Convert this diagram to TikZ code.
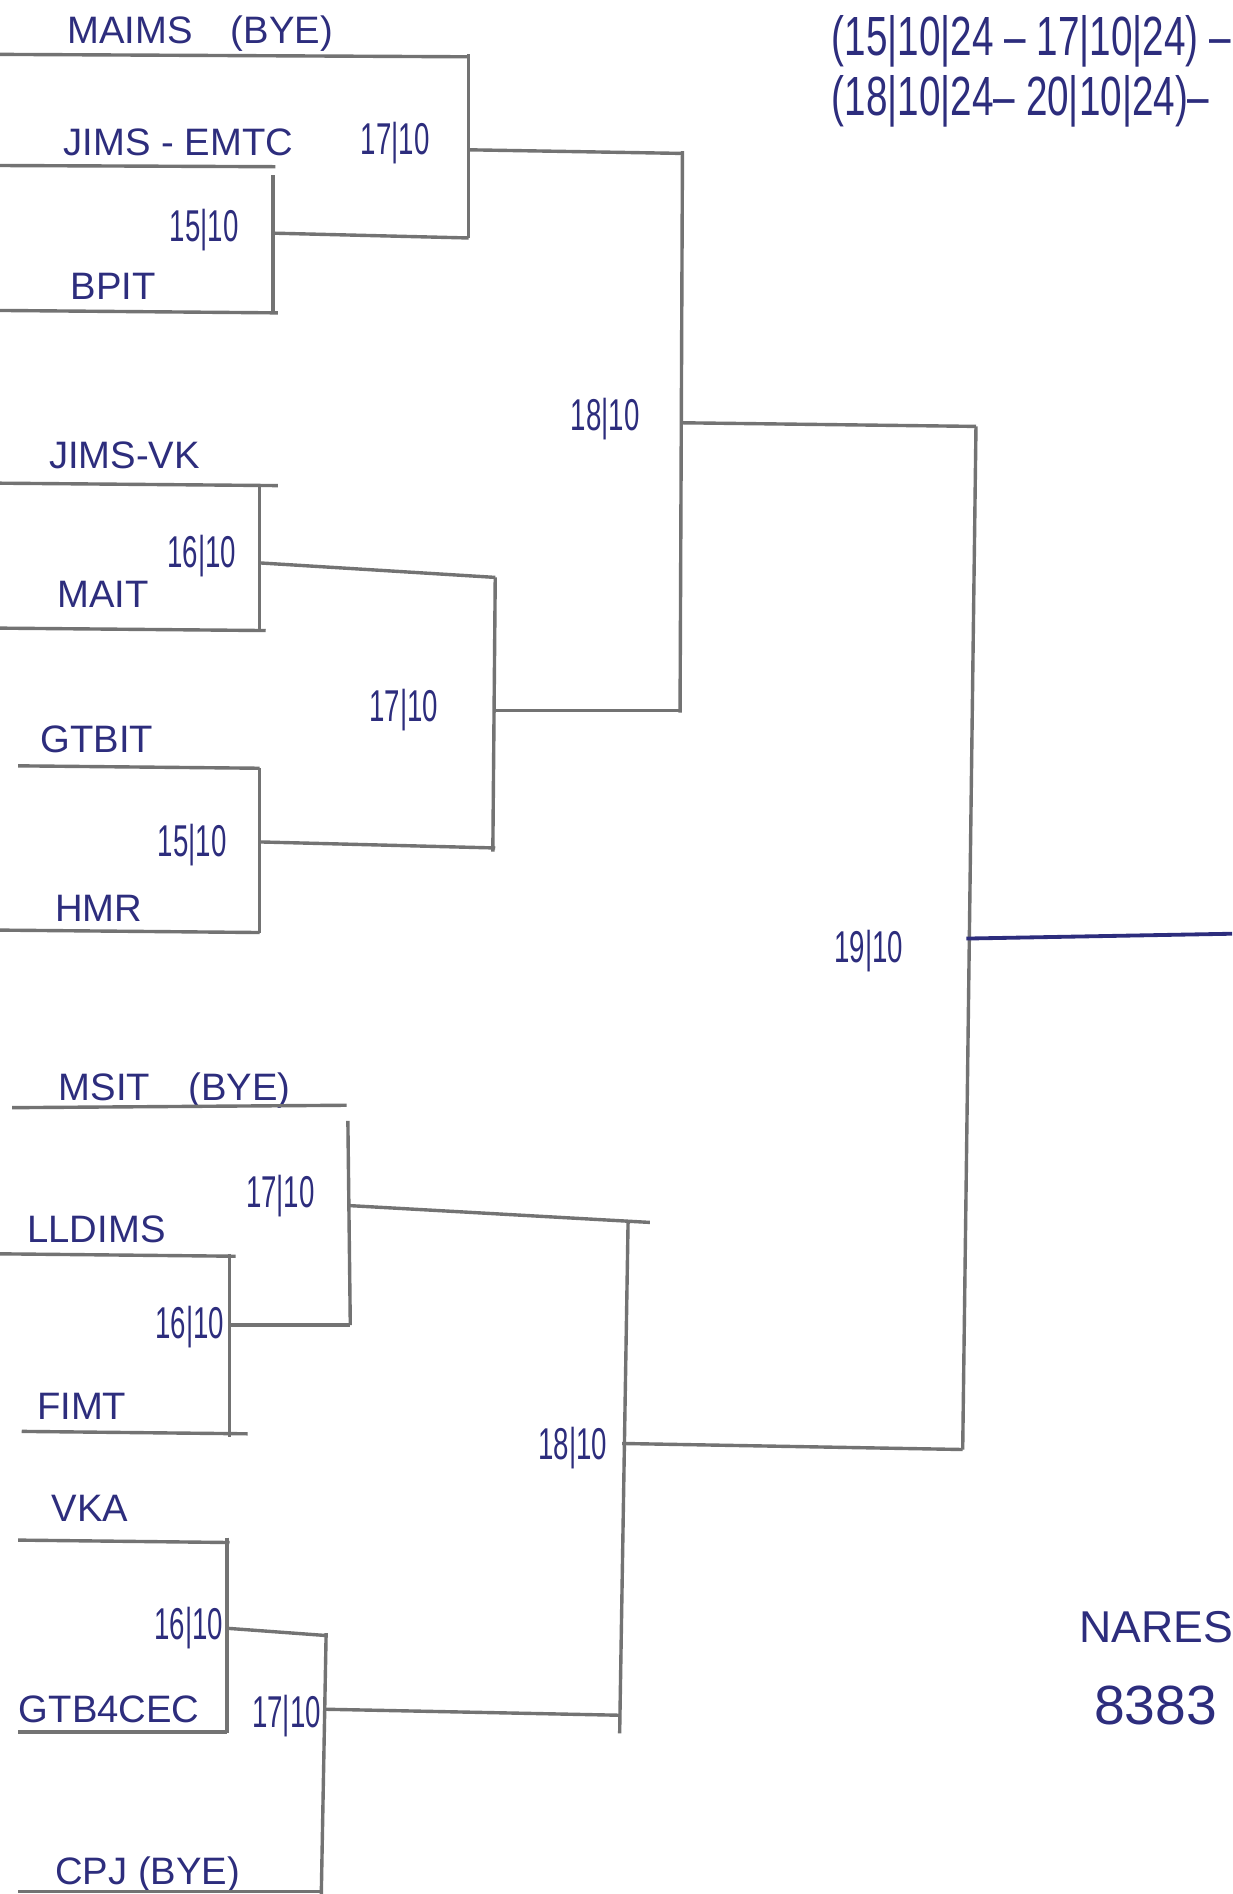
\documentclass[tikz,border=0pt]{standalone}
\usepackage{fontspec}
\setmainfont{Liberation Sans}
\newfontfamily\datefont[FakeStretch=0.62]{Liberation Sans}
\newfontfamily\notefont[FakeStretch=0.70]{Liberation Sans}
\usepackage{tikz}
\usetikzlibrary{positioning}

\definecolor{ink}{RGB}{45,45,125}
\definecolor{lead}{RGB}{115,115,115}

\tikzset{
    teamlbl/.style={anchor=base west, inner sep=0pt, text=ink, font=\fontsize{9}{10}\selectfont},
    datelbl/.style={anchor=base west, inner sep=0pt, text=ink, font=\datefont\fontsize{10.5}{12}\selectfont},
    notelbl/.style={anchor=base west, inner sep=0pt, text=ink, font=\notefont\fontsize{13}{14}\selectfont},
    pencil/.style={draw=lead, line width=0.8pt},
    inkline/.style={draw=ink, line width=0.9pt}
}

\begin{document}
\begin{tikzpicture}[x=0.01cm, y=-0.01cm]
    \useasboundingbox[fill=white] (0,0) rectangle (1020,1568);
    % teams
    \foreach \name/\x/\y [count=\i] in {
        {MAIMS\quad(BYE)}/55/36, {JIMS - EMTC}/52/129, {BPIT}/58/248,
        {JIMS-VK}/40/388, {MAIT}/47/503, {GTBIT}/33/623, {HMR}/45/763,
        {MSIT\quad(BYE)}/48/911, {LLDIMS}/22/1029, {FIMT}/30/1175,
        {VKA}/42/1260, {GTB4CEC}/15/1426, {CPJ (BYE)}/45/1560} {
        \node[teamlbl] (T\i) at (\x,\y) {\name};
    }
    % match dates
    \node[datelbl] (d1)  at (298,128)  {17|10};
    \node[datelbl] (d2)  at (140,200)  {15|10};
    \node[datelbl] (d3)  at (472,356)  {18|10};
    \node[datelbl] (d4)  at (138,470)  {16|10};
    \node[datelbl] (d5)  at (305,597)  {17|10};
    \node[datelbl] (d6)  at (130,709)  {15|10};
    \node[datelbl] (d7)  at (690,797)  {19|10};
    \node[datelbl] (d8)  at (203,1000) {17|10};
    \node[datelbl] (d9)  at (128,1108) {16|10};
    \node[datelbl] (d10) at (445,1208) {18|10};
    \node[datelbl] (d11) at (127,1357) {16|10};
    \node[datelbl] (d12) at (208,1430) {17|10};

    % upper half
    \draw[pencil] (0,45) -- (388,47);
    \draw[pencil] (0,137) -- (228,138);
    \draw[pencil] (0,257) -- (230,259);
    \draw[pencil] (226,145) -- (226,260);
    \draw[pencil] (226,193) -- (388,197);
    \draw[pencil] (388,45) -- (388,197);
    \draw[pencil] (388,124) -- (565,127);
    \draw[pencil] (0,400) -- (230,402);
    \draw[pencil] (0,520) -- (220,522);
    \draw[pencil] (215,402) -- (215,522);
    \draw[pencil] (215,466) -- (410,478);
    \draw[pencil] (15,634) -- (215,636);
    \draw[pencil] (0,770) -- (215,772);
    \draw[pencil] (215,636) -- (215,772);
    \draw[pencil] (215,697) -- (410,702);
    \draw[pencil] (410,478) -- (408,705);
    \draw[pencil] (408,588) -- (565,588);
    \draw[pencil] (565,125) -- (563,590);
    \draw[pencil] (565,350) -- (808,353);

    % lower half
    \draw[pencil] (10,917) -- (287,915);
    \draw[pencil] (288,928) -- (290,1097);
    \draw[pencil] (288,998) -- (538,1012);
    \draw[pencil] (0,1038) -- (195,1040);
    \draw[pencil] (18,1185) -- (205,1187);
    \draw[pencil] (190,1038) -- (190,1190);
    \draw[pencil] (190,1097) -- (290,1097);
    \draw[pencil] (520,1010) -- (513,1435);
    \draw[pencil] (515,1195) -- (797,1200);
    \draw[pencil] (15,1275) -- (190,1277);
    \draw[pencil] (15,1434) -- (188,1434);
    \draw[pencil] (188,1273) -- (188,1435);
    \draw[pencil] (188,1348) -- (270,1354);
    \draw[pencil] (270,1352) -- (266,1568);
    \draw[pencil] (268,1415) -- (513,1420);
    \draw[pencil] (15,1566) -- (266,1566);

    % final
    \draw[pencil] (808,353) -- (797,1200);
    \draw[inkline] (800,777) -- (1020,773);

    % notes
    \node[notelbl] (n1) at (688,46) {(15|10|24 – 17|10|24) –};
    \node[notelbl] (n2) at (688,96) {(18|10|24– 20|10|24)–};
    \node[anchor=base west, inner sep=0pt, text=ink, font=\fontsize{10.5}{12}\selectfont] (n3) at (893,1360) {NARES};
    \node[anchor=base west, inner sep=0pt, text=ink, font=\fontsize{13}{15}\selectfont] (n4) at (905,1428) {8383};
\end{tikzpicture}
\end{document}
